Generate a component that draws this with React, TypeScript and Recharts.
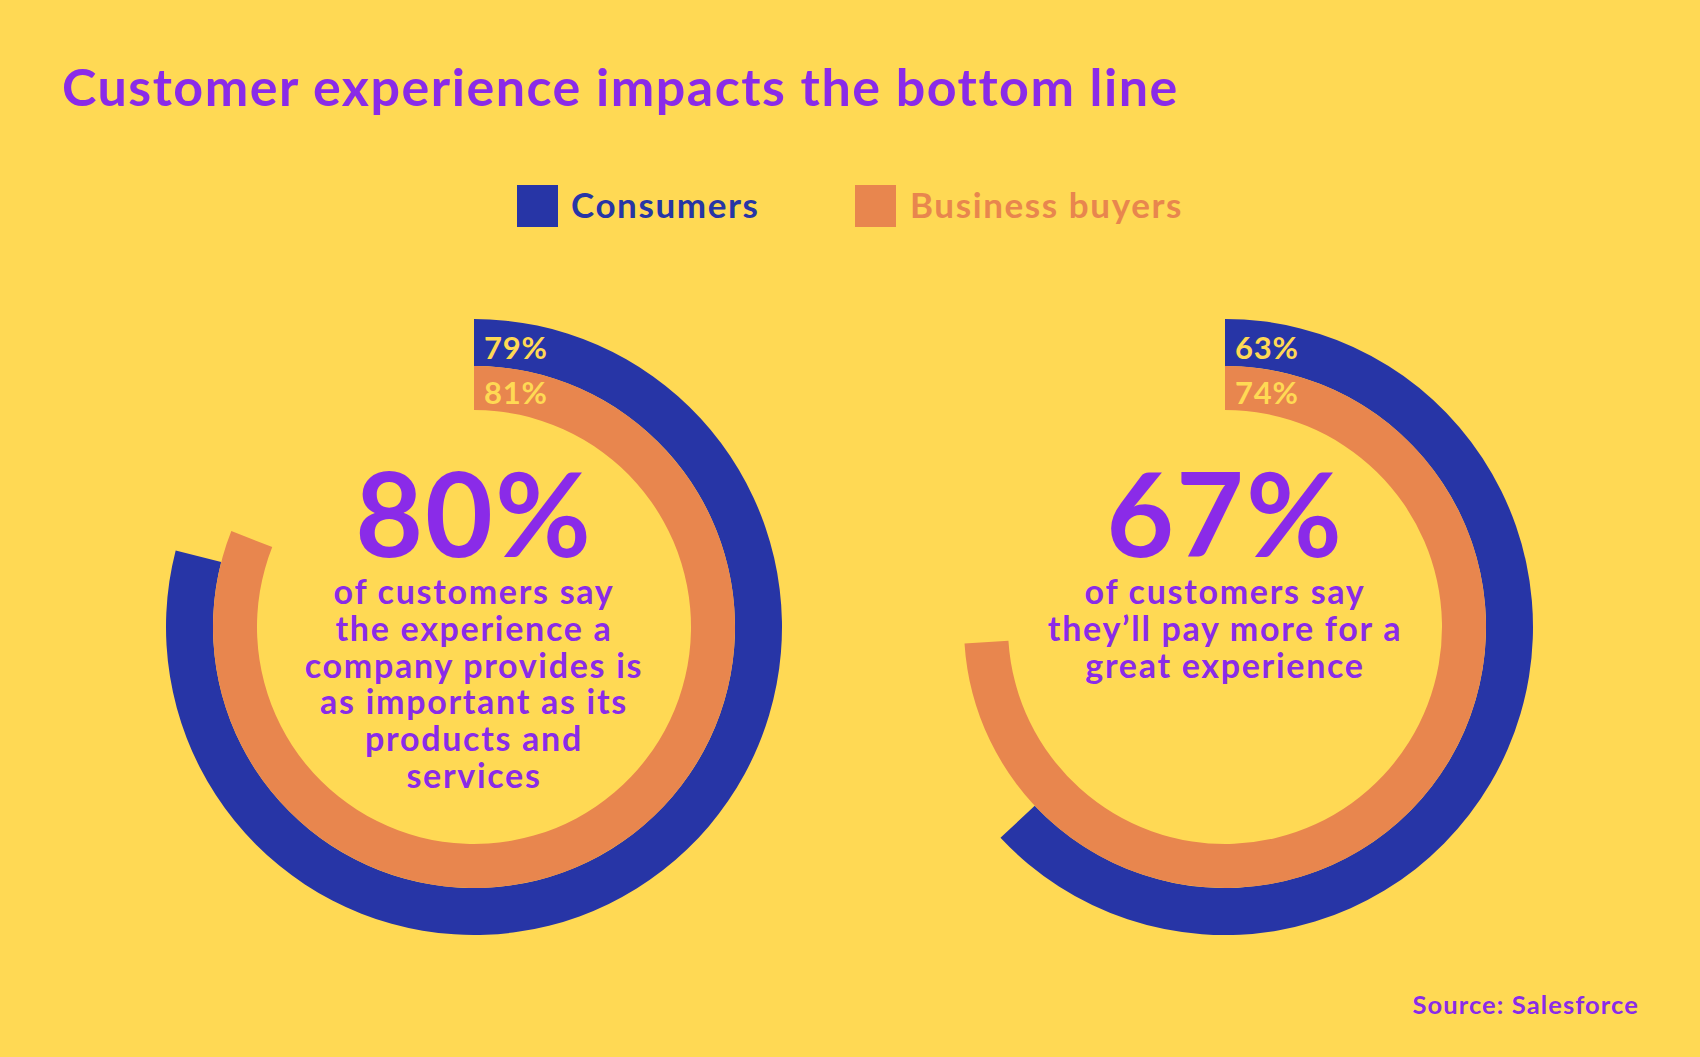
import React from "react";
import { PieChart, Pie, Cell } from "recharts";

const seriesNames = ["Consumers", "Business buyers"];
// values per chart: [Consumers, Business buyers]
const chartValues = [
  [79, 81],
  [63, 74],
];
const headlines = ["80%", "67%"];
const captions = [
  [
    "of customers say",
    "the experience a",
    "company provides is",
    "as important as its",
    "products and",
    "services",
  ],
  ["of customers say", "they\u2019ll pay more for a", "great experience"],
];

const W = 1700;
const H = 1057;
const BG = "#FFD954";
const BLUE = "#2735A6";
const ORANGE = "#E8864E";
const PURPLE = "#8A2BE8";
const FONT = "Lato, 'Open Sans', sans-serif";

const centers = [
  { cx: 474, cy: 627 },
  { cx: 1225, cy: 627 },
];
// outer ring = consumers, inner ring = business buyers
const rings = [
  { inner: 261, outer: 308, color: BLUE },
  { inner: 217, outer: 261, color: ORANGE },
];

const ringLabel = (props: any) => {
  if (props.index !== 0) return null;
  const mid = (props.innerRadius + props.outerRadius) / 2;
  return (
    <text
      x={props.cx + 10}
      y={props.cy - mid + 16}
      fill={BG}
      fontFamily={FONT}
      fontWeight={700}
      fontSize={31}
      letterSpacing={0.8}
    >
      {props.value}%
    </text>
  );
};

export default function App() {
  return (
    <div
      style={{
        position: "absolute",
        left: 0,
        top: 0,
        width: W,
        height: H,
        background: BG,
        fontFamily: FONT,
      }}
    >
      <PieChart width={W} height={H} margin={{ top: 0, right: 0, bottom: 0, left: 0 }}>
        {chartValues.map((vals, ci) =>
          vals.map((v, si) => (
            <Pie
              key={`${ci}-${si}`}
              data={[
                { name: seriesNames[si], value: v },
                { name: "rest", value: 100 - v },
              ]}
              dataKey="value"
              cx={centers[ci].cx}
              cy={centers[ci].cy}
              innerRadius={rings[si].inner}
              outerRadius={rings[si].outer}
              startAngle={90}
              endAngle={-270}
              stroke="none"
              label={ringLabel}
              labelLine={false}
              isAnimationActive={false}
            >
              <Cell fill={rings[si].color} />
              <Cell fill="none" />
            </Pie>
          ))
        )}
      </PieChart>
      <svg
        width={W}
        height={H}
        style={{ position: "absolute", left: 0, top: 0, pointerEvents: "none" }}
      >
        <text x={62} y={106} fill={PURPLE} fontFamily={FONT} fontWeight={700} fontSize={52} letterSpacing={1.5}>
          Customer experience impacts the bottom line
        </text>
        {/* legend */}
        <rect x={517} y={185} width={41} height={42} fill={BLUE} />
        <text x={571} y={218} fill={BLUE} fontFamily={FONT} fontWeight={700} fontSize={35} letterSpacing={1.6}>
          {seriesNames[0]}
        </text>
        <rect x={855} y={185} width={41} height={42} fill={ORANGE} />
        <text x={910} y={218} fill={ORANGE} fontFamily={FONT} fontWeight={700} fontSize={35} letterSpacing={1.6}>
          {seriesNames[1]}
        </text>
        {headlines.map((h, ci) => (
          <g key={ci}>
            <text
              x={centers[ci].cx}
              y={557}
              textAnchor="middle"
              fill={PURPLE}
              fontFamily={FONT}
              fontWeight={700}
              fontSize={117}
              letterSpacing={2}
            >
              {h}
            </text>
            {captions[ci].map((line, li) => (
              <text
                key={li}
                x={centers[ci].cx}
                y={604 + li * 36.8}
                textAnchor="middle"
                fill={PURPLE}
                fontFamily={FONT}
                fontWeight={700}
                fontSize={34}
                letterSpacing={1.7}
              >
                {line}
              </text>
            ))}
          </g>
        ))}
        <text x={1639} y={1014} textAnchor="end" fill={PURPLE} fontFamily={FONT} fontWeight={700} fontSize={25.5} letterSpacing={1.1}>
          Source: Salesforce
        </text>
      </svg>
    </div>
  );
}
